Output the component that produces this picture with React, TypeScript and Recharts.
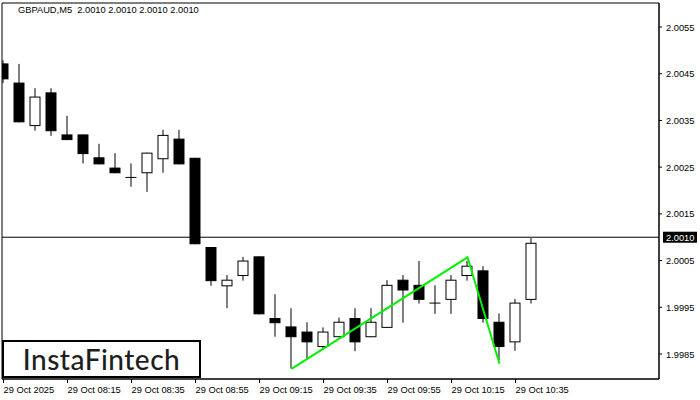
import { ComposedChart, Bar, Line, XAxis, YAxis, ReferenceLine, ReferenceArea } from 'recharts'

// GBPAUD M5 candles, index 0 = 07:55
const opens = [2.00471, 2.0043, 2.00339, 2.00409, 2.00319, 2.00319, 2.0027, 2.00248, 2.00228, 2.00238, 2.00268, 2.0031, 2.00269, 2.00078, 1.99996, 2.00018, 2.00058, 1.99926, 1.99908, 1.99897, 1.99866, 1.99887, 1.99926, 1.99887, 1.99907, 2.00008, 1.99997, 1.99959, 1.99967, 2.00018, 2.00028, 1.99918, 1.99876, 1.99967]
const highs = [2.00479, 2.00471, 2.00419, 2.00419, 2.0036, 2.0032, 2.003, 2.0028, 2.00258, 2.00281, 2.0033, 2.0033, 2.0027, 2.00079, 2.00019, 2.00058, 2.00059, 1.99978, 1.99948, 1.99918, 1.99907, 1.99928, 1.99948, 1.99948, 2.00008, 2.00019, 2.00049, 1.99997, 2.00019, 2.00049, 2.00038, 1.99937, 1.99968, 2.00098]
const lows = [2.0043, 2.00346, 2.00328, 2.00317, 2.00308, 2.00258, 2.00256, 2.00237, 2.00208, 2.00197, 2.00238, 2.00256, 2.00085, 1.99996, 1.99948, 2.00007, 1.99935, 1.99887, 1.99819, 1.99841, 1.99859, 1.99886, 1.99856, 1.99886, 1.99906, 1.99917, 1.99958, 1.99936, 1.99936, 2.00007, 1.99917, 1.99837, 1.99857, 1.99958]
const closes = [2.00439, 2.00347, 2.004, 2.00328, 2.00309, 2.00279, 2.00257, 2.00238, 2.00228, 2.0028, 2.00318, 2.00257, 2.00086, 2.00007, 2.00008, 2.00049, 1.99936, 1.99917, 1.99887, 1.99876, 1.99897, 1.99918, 1.99876, 1.99918, 1.99997, 1.99987, 1.99967, 1.99959, 2.00008, 2.00038, 1.99926, 1.99866, 1.99959, 2.00087]

// pattern lines (bottom - top - bottom)
const zigIndex = [18, 29, 31]
const zigPrice = [1.99818, 2.00057, 1.99829]

const timeTicks = [0, 4, 8, 12, 16, 20, 24, 28, 32]
const timeLabels = ['29 Oct 2025', '29 Oct 08:15', '29 Oct 08:35', '29 Oct 08:55', '29 Oct 09:15', '29 Oct 09:35', '29 Oct 09:55', '29 Oct 10:15', '29 Oct 10:35']
const priceTicks = [1.9985, 1.9995, 2.0005, 2.001, 2.0015, 2.0025, 2.0035, 2.0045, 2.0055]
const currentPrice = 2.001

const X_MIN = -0.094
const X_MAX = 40.97
const Y_MIN = 1.997965
const Y_MAX = 2.006014

const FONT = '"Liberation Sans", Arial, sans-serif'

const data = opens.map((o, i) => {
  const z = zigIndex.indexOf(i)
  return {
    i,
    open: o,
    high: highs[i],
    low: lows[i],
    close: closes[i],
    zz: z >= 0 ? zigPrice[z] : null,
  }
})

const Candle = (props: any) => {
  const { x, y, width, height, payload } = props
  const cx = x + width / 2
  const top = Math.min(y, y + height)
  const h = Math.abs(height)
  const range = payload.high - payload.low
  const pix = (p: number) => (range === 0 ? top : top + ((payload.high - p) / range) * h)
  const bull = payload.close > payload.open
  const bTop = pix(Math.max(payload.open, payload.close))
  const bBot = pix(Math.min(payload.open, payload.close))
  return (
    <g>
      <line x1={cx} x2={cx} y1={top} y2={top + h} stroke="#000" strokeWidth={1} />
      {payload.open === payload.close ? (
        <line x1={cx - 5.5} x2={cx + 5.5} y1={bTop} y2={bTop} stroke="#000" strokeWidth={1} />
      ) : (
        <rect x={cx - 5} y={bTop} width={10} height={Math.max(bBot - bTop, 1)} fill={bull ? '#fff' : '#000'} stroke="#000" strokeWidth={1} />
      )}
    </g>
  )
}

const TimeTick = (props: any) => {
  const { x, y, payload } = props
  const idx = timeTicks.indexOf(payload.value)
  return (
    <text x={x} y={y + 8} textAnchor="start" fontSize={9.3} fontFamily={FONT} fill="#000">
      {timeLabels[idx]}
    </text>
  )
}

const PriceTick = (props: any) => {
  const { x, y, payload } = props
  const axisX = x - 6
  if (payload.value === currentPrice) {
    return (
      <g>
        <rect x={axisX + 4} y={y - 5.5} width={34} height={11} fill="#000" />
        <text x={x + 1} y={y + 3.5} fontSize={9.3} fontFamily={FONT} fill="#fff">
          {payload.value.toFixed(4)}
        </text>
      </g>
    )
  }
  return (
    <g>
      <line x1={axisX} x2={axisX + 3} y1={y} y2={y} stroke="#000" />
      <text x={x + 1} y={y + 3.5} fontSize={9.3} fontFamily={FONT} fill="#000">
        {payload.value.toFixed(4)}
      </text>
    </g>
  )
}

export default function App() {
  return (
    <div style={{ position: 'relative', width: 700, height: 400, background: '#fff' }}>
      <style>{'body{margin:0}'}</style>
      <ComposedChart width={700} height={400} data={data} margin={{ top: 3, right: 0, bottom: 0, left: 2 }}>
        <XAxis
          dataKey="i"
          type="number"
          domain={[X_MIN, X_MAX]}
          ticks={timeTicks}
          allowDataOverflow
          height={21}
          tickSize={4}
          tickMargin={2}
          stroke="#000"
          tick={<TimeTick />}
          interval={0}
        />
        <YAxis
          orientation="right"
          type="number"
          domain={[Y_MIN, Y_MAX]}
          ticks={priceTicks}
          allowDataOverflow
          width={41}
          tickSize={3}
          tickMargin={3}
          tickLine={false}
          stroke="#000"
          tick={<PriceTick />}
          interval={0}
        />
        <ReferenceArea x1={X_MIN} x2={X_MAX} y1={Y_MIN} y2={Y_MAX} fill="none" stroke="#000" strokeWidth={1} />
        <ReferenceLine y={currentPrice} stroke="#000" strokeWidth={1} />
        <Bar dataKey={(d: any) => [d.low, d.high]} barSize={11} shape={<Candle />} isAnimationActive={false} />
        <Line
          dataKey="zz"
          type="linear"
          connectNulls
          dot={false}
          stroke="#00f000"
          strokeWidth={2}
          isAnimationActive={false}
        />
      </ComposedChart>
      <div
        style={{
          position: 'absolute',
          left: 18,
          top: 5,
          fontFamily: FONT,
          fontSize: 9.3,
          color: '#000',
          whiteSpace: 'pre',
        }}
      >
        {'GBPAUD,M5  2.0010 2.0010 2.0010 2.0010'}
      </div>
      <div
        style={{
          position: 'absolute',
          left: 2,
          top: 340,
          width: 195,
          height: 34,
          border: '2.5px solid #000',
          background: '#fff',
          display: 'flex',
          alignItems: 'center',
          justifyContent: 'center',
          fontFamily: 'Lato, "Open Sans", sans-serif',
          fontWeight: 500,
          fontSize: 28,
          letterSpacing: 0.5,
          color: '#1e1e1e',
        }}
      >
        InstaFintech
      </div>
    </div>
  )
}
